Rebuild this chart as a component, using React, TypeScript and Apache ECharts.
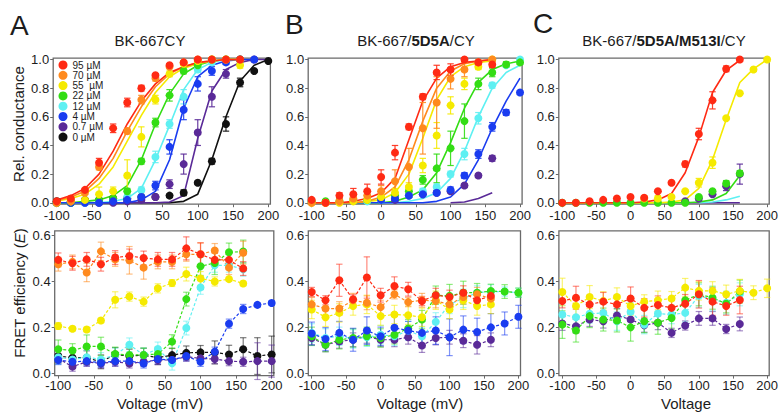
import React, { useEffect, useRef } from 'react';
import * as echarts from 'echarts';

const _ = null;
const VOLTAGES = [-100, -80, -60, -40, -20, 0, 20, 40, 60, 80, 100, 120, 140, 160, 180, 200];
const CONCENTRATIONS = ['95 µM', '70 µM', '55  µM', '22 µM', '12 µM', '4 µM', '0.7 µM', '0 µM'];
const COLORS = ['#ff2a14', '#ff8a1e', '#f5ea00', '#33dd14', '#5ef0f2', '#1a3cf0', '#5a2a98', '#111111'];
const X_TICKS = [-100, -50, 0, 50, 100, 150, 200];
const Y_TICKS_TOP = [0, 0.2, 0.4, 0.6, 0.8, 1.0];
const Y_TICKS_BOTTOM = [0, 0.2, 0.4, 0.6];

// ---- Panel A: BK-667CY ----
const A_TOP_G = [
  [0.01, 0.03, 0.09, 0.28, 0.52, 0.70, 0.80, 0.89, 0.96, 0.98, 1.0, 1.0, 1.0, 1.0, _, _],
  [0.0, 0.01, 0.07, 0.25, _, 0.50, 0.72, 0.87, 0.95, 0.98, 1.0, 1.0, 1.0, 1.0, _, _],
  [0.0, 0.01, 0.02, 0.06, 0.08, 0.19, 0.46, 0.72, 0.90, 0.97, 0.99, 1.0, 1.0, 0.96, _, _],
  [0.0, 0.0, 0.01, 0.02, 0.03, 0.08, 0.29, 0.56, 0.75, 0.92, 0.96, 1.0, 1.0, 1.0, _, _],
  [0.0, 0.0, 0.0, 0.01, 0.02, 0.04, 0.09, 0.32, 0.55, 0.74, 0.93, 0.98, 1.0, 1.0, _, _],
  [0.0, 0.0, 0.0, 0.0, 0.01, 0.02, 0.04, 0.12, 0.39, 0.65, 0.83, 0.92, 0.98, 1.0, 1.0, _],
  [0.0, 0.0, 0.0, 0.0, 0.0, 0.01, 0.02, 0.04, 0.13, 0.27, 0.49, 0.74, 0.90, 1.0, 1.0, _],
  [0.01, 0.01, 0.02, 0.02, 0.03, 0.03, 0.04, 0.04, 0.05, 0.07, 0.14, 0.29, 0.55, 0.84, 0.92, 0.99],
];
const A_TOP_ERR = [
  [0, 0, 0.01, 0.03, 0.03, 0.03, 0.02, 0.01, 0.01, 0, 0, 0, 0, 0, _, _],
  [0, 0, 0.01, 0.02, _, 0.02, 0.03, 0.02, 0.01, 0, 0, 0, 0, 0, _, _],
  [0, 0, 0.01, 0.05, 0.03, 0.11, 0.07, 0.03, 0.02, 0.01, 0, 0, 0, 0.02, _, _],
  [0, 0, 0, 0, 0.01, 0.02, 0.02, 0.03, 0.04, 0.02, 0.01, 0, 0, 0, _, _],
  [0, 0, 0, 0, 0, 0.01, 0.02, 0.04, 0.03, 0.05, 0.02, 0.01, 0, 0, _, _],
  [0, 0, 0, 0, 0, 0, 0.01, 0.03, 0.05, 0.07, 0.05, 0.03, 0.01, 0, 0, _],
  [0, 0, 0, 0, 0, 0, 0, 0.01, 0.03, 0.07, 0.09, 0.07, 0.03, 0, 0, _],
  [0, 0, 0, 0, 0, 0, 0, 0, 0.01, 0.02, 0.01, 0.02, 0.05, 0.03, 0.01, 0],
];
const A_TOP_FIT = [
  [0.02, 0.05, 0.10, 0.20, 0.36, 0.55, 0.71, 0.83, 0.91, 0.95, 0.98, 0.99, 1.0, 1.0, _, _],
  [0.015, 0.04, 0.08, 0.17, 0.31, 0.50, 0.67, 0.81, 0.90, 0.95, 0.98, 0.99, 1.0, 1.0, _, _],
  [0.01, 0.03, 0.06, 0.13, 0.25, 0.43, 0.61, 0.77, 0.88, 0.94, 0.97, 0.99, 1.0, 1.0, _, _],
  [0.0, 0.0, 0.01, 0.02, 0.05, 0.12, 0.30, 0.55, 0.76, 0.90, 0.96, 0.99, 1.0, 1.0, _, _],
  [0.0, 0.0, 0.0, 0.0, 0.01, 0.03, 0.10, 0.30, 0.54, 0.79, 0.93, 0.98, 1.0, 1.0, _, _],
  [0.0, 0.0, 0.0, 0.0, 0.0, 0.0, 0.02, 0.08, 0.30, 0.66, 0.88, 0.96, 0.99, 1.0, 1.0, _],
  [0.0, 0.0, 0.0, 0.0, 0.0, 0.0, 0.0, 0.0, 0.005, 0.05, 0.45, 0.78, 0.93, 0.98, 1.0, 1.0],
  [0.0, 0.0, 0.0, 0.0, 0.0, 0.0, 0.0, 0.0, 0.0, 0.01, 0.06, 0.30, 0.60, 0.85, 0.96, 1.0],
];
const A_BOT_E = [
  [0.494, 0.479, 0.496, 0.475, 0.504, 0.511, 0.502, 0.496, 0.496, 0.544, 0.518, 0.494, 0.494, 0.456, _, _],
  [0.475, 0.485, 0.439, 0.531, 0.496, 0.492, 0.46, 0.485, 0.485, 0.518, 0.518, 0.535, 0.46, 0.525, _, _],
  [0.206, 0.194, 0.191, 0.23, 0.32, 0.334, 0.312, 0.37, 0.393, 0.432, 0.413, 0.40, 0.41, 0.391, _, _],
  [0.105, 0.099, 0.117, 0.117, 0.084, 0.08, 0.08, 0.084, 0.138, 0.323, 0.466, 0.48, 0.527, 0.53, _, _],
  [0.07, 0.06, 0.07, 0.06, 0.08, 0.124, 0.08, 0.106, 0.044, 0.197, 0.374, 0.47, 0.47, 0.453, _, _],
  [0.058, 0.05, 0.053, 0.046, 0.053, 0.053, 0.043, 0.062, 0.058, 0.075, 0.05, 0.094, 0.216, 0.28, 0.298, 0.306],
  [0.065, 0.029, 0.05, 0.043, 0.05, 0.043, 0.05, 0.058, 0.058, 0.072, 0.065, 0.062, 0.053, 0.05, 0.053, 0.053],
  [0.075, 0.068, 0.068, 0.05, 0.082, 0.075, 0.079, 0.068, 0.079, 0.089, 0.091, 0.091, 0.082, 0.105, 0.075, 0.082],
];
const A_BOT_ERR = [
  [0.03, 0.03, 0.03, 0.03, 0.03, 0.03, 0.03, 0.03, 0.03, 0.05, 0.05, 0.03, 0.03, 0.03, _, _],
  [0.03, 0.03, 0.04, 0.04, 0.03, 0.06, 0.05, 0.03, 0.03, 0.03, 0.05, 0.03, 0.03, 0.05, _, _],
  [0.015, 0.01, 0.01, 0.01, 0.035, 0.02, 0.02, 0.02, 0.015, 0.03, 0.03, 0.02, 0.01, 0.01, _, _],
  [0.04, 0.03, 0.05, 0.04, 0.03, 0.03, 0.03, 0.03, 0.03, 0.03, 0.04, 0.05, 0.04, 0.05, _, _],
  [0.03, 0.03, 0.03, 0.03, 0.03, 0.03, 0.03, 0.03, 0.03, 0.03, 0.03, 0.03, 0.03, 0.03, _, _],
  [0.02, 0.02, 0.02, 0.02, 0.02, 0.02, 0.02, 0.02, 0.02, 0.02, 0.02, 0.02, 0.02, 0.02, 0.01, 0.01],
  [0.02, 0.02, 0.02, 0.02, 0.02, 0.02, 0.02, 0.02, 0.02, 0.02, 0.02, 0.02, 0.02, 0.02, 0.08, 0.07],
  [0.03, 0.03, 0.03, 0.03, 0.03, 0.03, 0.03, 0.03, 0.03, 0.03, 0.03, 0.05, 0.04, 0.05, 0.08, 0.08],
];

// ---- Panel B: BK-667/5D5A/CY ----
const B_TOP_G = [
  [0.02, 0.0, 0.05, 0.06, 0.08, 0.18, 0.35, 0.53, 0.74, 0.91, 0.93, 1.0, 0.98, 0.965, _, _],
  [0.0, 0.0, 0.01, 0.03, 0.05, 0.08, 0.15, 0.25, 0.52, 0.70, 0.865, 0.93, 0.98, 1.0, _, _],
  [0.0, 0.0, 0.0, 0.01, 0.02, 0.04, 0.07, 0.11, 0.26, 0.47, 0.68, 0.83, 0.95, 1.0, _, _],
  [0.01, 0.01, 0.01, 0.02, 0.02, 0.03, 0.05, 0.08, 0.16, 0.24, 0.38, 0.57, 0.83, 0.91, 0.965, 0.98],
  [_, _, _, _, 0.01, 0.02, 0.04, 0.05, 0.08, 0.11, 0.20, 0.34, 0.59, 0.82, 0.96, 1.0],
  [_, _, _, _, _, 0.02, 0.03, 0.05, 0.06, 0.07, 0.09, 0.19, 0.34, 0.53, 0.63, 0.77],
  [_, _, _, _, _, _, 0.02, 0.05, 0.06, 0.07, 0.08, 0.12, 0.19, 0.31, _, _],
  null,
];
const B_TOP_ERR = [
  [0.01, 0, 0.02, 0.04, 0.05, 0.05, 0.05, 0.02, 0.02, 0.05, 0.04, 0.01, 0.01, 0.02, _, _],
  [0, 0, 0.01, 0.02, 0.03, 0.04, 0.08, 0.13, 0.18, 0.18, 0.07, 0.05, 0.02, 0, _, _],
  [0, 0, 0, 0.01, 0.02, 0.02, 0.03, 0.03, 0.05, 0.09, 0.06, 0.04, 0.02, 0, _, _],
  [0, 0, 0, 0, 0.01, 0.01, 0.02, 0.02, 0.03, 0.10, 0.12, 0.12, 0.04, 0.03, 0.02, 0.01],
  [_, _, _, _, 0, 0, 0.01, 0.01, 0.02, 0.02, 0.02, 0.04, 0.04, 0.02, 0.01, 0],
  [_, _, _, _, _, 0, 0.01, 0.01, 0.01, 0.01, 0.02, 0.02, 0.03, 0.03, 0.02, 0.01],
  [_, _, _, _, _, _, 0, 0.01, 0.01, 0.01, 0.01, 0.01, 0.01, 0.02, _, _],
  null,
];
const B_TOP_FIT = [
  [0, 0, 0, 0.01, 0.03, 0.07, 0.17, 0.44, 0.71, 0.87, 0.95, 0.98, 0.99, 1.0, _, _],
  [0, 0, 0, 0, 0.01, 0.04, 0.11, 0.30, 0.57, 0.80, 0.92, 0.97, 0.99, 1.0, _, _],
  [0, 0, 0, 0, 0.01, 0.02, 0.07, 0.20, 0.45, 0.72, 0.88, 0.95, 0.98, 0.99, _, _],
  [0, 0, 0, 0, 0, 0, 0.01, 0.04, 0.09, 0.21, 0.42, 0.66, 0.84, 0.93, 0.97, 0.99],
  [0, 0, 0, 0, 0, 0, 0, 0.01, 0.03, 0.07, 0.17, 0.36, 0.60, 0.80, 0.91, 0.96],
  [0, 0, 0, 0, 0, 0, 0, 0, 0, 0.01, 0.04, 0.13, 0.30, 0.52, 0.71, 0.87],
  [_, _, _, _, _, _, _, _, _, _, 0.0, 0.005, 0.03, 0.07, _, _],
  null,
];
const B_BOT_E = [
  [0.354, 0.318, 0.405, 0.322, 0.417, 0.34, 0.38, 0.366, 0.315, 0.34, 0.332, 0.351, 0.318, 0.337, _, _],
  [0.30, 0.282, 0.282, 0.318, 0.307, 0.288, 0.344, 0.31, 0.318, 0.315, 0.30, 0.332, 0.344, 0.325, _, _],
  [0.278, 0.244, 0.263, 0.293, 0.30, 0.249, 0.256, 0.253, 0.244, 0.318, 0.278, 0.318, 0.293, 0.30, _, _],
  [0.161, 0.124, 0.146, 0.154, 0.161, 0.154, 0.168, 0.195, 0.234, 0.34, 0.337, 0.351, 0.351, 0.358, 0.356, 0.351],
  [0.176, 0.154, 0.161, 0.15, 0.157, 0.168, 0.161, 0.186, 0.161, 0.224, 0.30, 0.326, 0.351, 0.356, 0.356, 0.351],
  [0.173, 0.149, 0.176, 0.146, 0.186, 0.161, 0.198, 0.186, 0.176, 0.186, 0.157, 0.19, 0.18, 0.20, 0.217, 0.246],
  [0.154, 0.124, 0.139, 0.146, 0.161, 0.146, 0.146, 0.157, 0.121, 0.154, 0.157, 0.142, 0.124, 0.146, _, _],
  null,
];
const B_BOT_ERR = [
  [0.02, 0.02, 0.07, 0.02, 0.09, 0.03, 0.04, 0.03, 0.02, 0.03, 0.03, 0.03, 0.02, 0.02, _, _],
  [0.03, 0.03, 0.03, 0.03, 0.03, 0.03, 0.02, 0.02, 0.03, 0.03, 0.03, 0.03, 0.03, 0.03, _, _],
  [0.04, 0.04, 0.04, 0.04, 0.04, 0.04, 0.04, 0.04, 0.04, 0.04, 0.04, 0.04, 0.04, 0.04, _, _],
  [0.04, 0.03, 0.04, 0.04, 0.04, 0.04, 0.04, 0.04, 0.04, 0.04, 0.05, 0.05, 0.04, 0.03, 0.03, 0.02],
  [0.04, 0.04, 0.04, 0.04, 0.04, 0.04, 0.04, 0.04, 0.04, 0.04, 0.04, 0.04, 0.03, 0.03, 0.02, 0.02],
  [0.05, 0.05, 0.05, 0.05, 0.06, 0.04, 0.06, 0.04, 0.05, 0.06, 0.08, 0.06, 0.06, 0.06, 0.05, 0.05],
  [0.03, 0.03, 0.03, 0.03, 0.03, 0.03, 0.03, 0.03, 0.03, 0.03, 0.03, 0.03, 0.04, 0.03, _, _],
  null,
];

// ---- Panel C: BK-667/5D5A/M513I/CY ----
const C_TOP_G = [
  [0, 0, 0.01, 0.02, 0.03, 0.04, 0.035, 0.08, 0.14, 0.27, 0.48, 0.715, 0.935, 1.0, _, _],
  null,
  [_, _, _, _, _, _, 0.03, 0.03, 0.04, 0.08, 0.14, 0.28, 0.59, 0.765, 0.93, 1.0],
  [0, 0, 0, 0, 0, 0, 0, 0, 0, 0, 0.04, 0.08, 0.135, 0.205, _, _],
  null,
  null,
  [_, _, _, _, _, _, _, _, _, 0.01, 0.03, 0.06, 0.115, 0.2, _, _],
  null,
];
const C_TOP_ERR = [
  [0, 0, 0, 0, 0, 0, 0, 0, 0, 0.02, 0.04, 0.06, 0.02, 0, _, _],
  null,
  [_, _, _, _, _, _, 0.02, 0.02, 0.01, 0.01, 0.03, 0.04, 0.01, 0, 0, 0],
  [0, 0, 0, 0, 0, 0, 0, 0, 0, 0, 0.01, 0.01, 0.02, 0.02, _, _],
  null,
  null,
  [_, _, _, _, _, _, _, _, _, 0, 0.01, 0.01, 0.03, 0.07, _, _],
  null,
];
const C_TOP_FIT = [
  [0, 0, 0, 0, 0, 0, 0.005, 0.02, 0.065, 0.21, 0.46, 0.77, 0.925, 0.995, _, _],
  null,
  [0, 0, 0, 0, 0, 0, 0, 0, 0.005, 0.02, 0.10, 0.30, 0.58, 0.84, 0.935, 1.0],
  [0, 0, 0, 0, 0, 0, 0, 0, 0, 0, 0.005, 0.02, 0.065, 0.19, _, _],
  [_, _, _, _, _, _, _, _, _, _, 0, 0.005, 0.02, 0.045, _, _],
  null,
  [_, _, _, _, _, _, _, _, _, 0, 0, 0, 0, 0, _, _],
  null,
];
const C_BOT_E = [
  [0.315, 0.329, 0.30, 0.312, 0.30, 0.326, 0.285, 0.297, 0.285, 0.303, 0.344, 0.312, 0.293, 0.319, _, _],
  null,
  [0.354, 0.293, 0.332, 0.315, 0.332, 0.293, 0.312, 0.318, 0.326, 0.373, 0.359, 0.359, 0.344, 0.359, 0.351, 0.37],
  [0.212, 0.186, 0.249, 0.234, 0.23, 0.20, 0.227, 0.22, 0.241, 0.318, 0.344, 0.329, 0.303, 0.356, _, _],
  [0.256, 0.244, 0.259, 0.263, 0.227, 0.268, 0.212, 0.26, 0.256, 0.263, 0.337, 0.322, 0.307, 0.344, _, _],
  null,
  [0.217, 0.205, 0.234, 0.227, 0.252, 0.234, 0.209, 0.22, 0.176, 0.208, 0.239, 0.239, 0.193, 0.215, _, _],
  null,
];
const C_BOT_ERR = [
  [0.03, 0.05, 0.04, 0.04, 0.04, 0.05, 0.04, 0.04, 0.04, 0.04, 0.06, 0.06, 0.04, 0.06, _, _],
  null,
  [0.06, 0.04, 0.05, 0.04, 0.04, 0.04, 0.03, 0.04, 0.03, 0.04, 0.04, 0.04, 0.04, 0.05, 0.03, 0.04],
  [0.06, 0.05, 0.05, 0.05, 0.05, 0.06, 0.05, 0.05, 0.05, 0.05, 0.05, 0.05, 0.04, 0.05, _, _],
  [0.04, 0.04, 0.04, 0.04, 0.04, 0.04, 0.04, 0.04, 0.04, 0.04, 0.05, 0.05, 0.05, 0.05, _, _],
  null,
  [0.03, 0.03, 0.03, 0.03, 0.03, 0.03, 0.03, 0.03, 0.02, 0.02, 0.03, 0.03, 0.02, 0.03, _, _],
  null,
];

// drawing order (back to front): black, purple, cyan, green, blue, yellow, orange, red
const DRAW_ORDER = [7, 6, 4, 3, 5, 2, 1, 0];
const FONT = '"Liberation Sans", Arial, Helvetica, sans-serif';
const TXT = '#1c1c1c';
const FRAME = '#6a6a6a';

type Row = (number | null)[] | null;
interface Panel {
  id: string;
  kind: 'top' | 'bottom';
  grid: { left: number; top: number; width: number; height: number };
  values: Row[];
  errors: Row[];
  fits?: Row[];
}

const TOP_GRID_Y = { top: 58.1, height: 146.1 };
const BOT_GRID_Y = { top: 230.9, height: 144.7 };

const PANELS: Panel[] = [
  { id: 'At', kind: 'top', grid: { left: 53.2, width: 217.2, ...TOP_GRID_Y }, values: A_TOP_G, errors: A_TOP_ERR, fits: A_TOP_FIT },
  { id: 'Bt', kind: 'top', grid: { left: 308.2, width: 213.9, ...TOP_GRID_Y }, values: B_TOP_G, errors: B_TOP_ERR, fits: B_TOP_FIT },
  { id: 'Ct', kind: 'top', grid: { left: 558.8, width: 213.2, ...TOP_GRID_Y }, values: C_TOP_G, errors: C_TOP_ERR, fits: C_TOP_FIT },
  { id: 'Ab', kind: 'bottom', grid: { left: 54.7, width: 219.1, ...BOT_GRID_Y }, values: A_BOT_E, errors: A_BOT_ERR },
  { id: 'Bb', kind: 'bottom', grid: { left: 308.3, width: 212.2, ...BOT_GRID_Y }, values: B_BOT_E, errors: B_BOT_ERR },
  { id: 'Cb', kind: 'bottom', grid: { left: 558.9, width: 210.8, ...BOT_GRID_Y }, values: C_BOT_E, errors: C_BOT_ERR },
];

function pairs(row: (number | null)[]) {
  return VOLTAGES.map((v, j) => (row[j] == null ? null : [v, row[j]])).filter((d) => d !== null);
}

function makeErrRender(color: string, opacity: number) {
  return (params: any, api: any) => {
    const x = api.value(0);
    const y = api.value(1);
    const e = api.value(2);
    const hi = api.coord([x, y + e]);
    const lo = api.coord([x, y - e]);
    const w = 3.2;
    const style = { stroke: color, lineWidth: 1.2, opacity };
    return {
      type: 'group',
      children: [
        { type: 'line', shape: { x1: hi[0], y1: hi[1], x2: lo[0], y2: lo[1] }, style },
        { type: 'line', shape: { x1: hi[0] - w, y1: hi[1], x2: hi[0] + w, y2: hi[1] }, style },
        { type: 'line', shape: { x1: lo[0] - w, y1: lo[1], x2: lo[0] + w, y2: lo[1] }, style },
      ],
    };
  };
}

function buildOption() {
  const grids = PANELS.map((p) => ({
    ...p.grid,
    show: true,
    borderColor: FRAME,
    borderWidth: 1.3,
    backgroundColor: 'transparent',
    containLabel: false,
  }));
  const xAxes = PANELS.map((p, i) => ({
    type: 'value',
    gridIndex: i,
    position: 'bottom',
    min: -105,
    max: 203,
    axisLine: { show: false, onZero: false },
    splitLine: { show: false },
    axisTick: { show: true, customValues: X_TICKS, length: 3, lineStyle: { color: FRAME } },
    axisLabel: {
      customValues: X_TICKS,
      fontSize: 13,
      color: TXT,
      fontFamily: FONT,
      margin: p.kind === 'top' ? 5 : 3,
    },
  }));
  const yAxes = PANELS.map((p, i) => {
    const ticks = p.kind === 'top' ? Y_TICKS_TOP : Y_TICKS_BOTTOM;
    return {
      type: 'value',
      gridIndex: i,
      position: 'left',
      min: -0.01,
      max: p.kind === 'top' ? 1.01 : 0.62,
      axisLine: { show: false, onZero: false },
      splitLine: { show: false },
      axisTick: { show: true, customValues: ticks, length: 3, lineStyle: { color: FRAME } },
      axisLabel: {
        customValues: ticks,
        fontSize: 13,
        color: TXT,
        fontFamily: FONT,
        margin: 4,
        formatter: (v: number) => v.toFixed(1),
      },
    };
  });

  const series: any[] = [];
  PANELS.forEach((p, pi) => {
    DRAW_ORDER.forEach((k) => {
      const color = COLORS[k];
      const fit = p.fits ? p.fits[k] : null;
      if (fit) {
        series.push({
          type: 'line',
          name: `${p.id}-fit-${k}`,
          xAxisIndex: pi,
          yAxisIndex: pi,
          data: pairs(fit),
          symbol: 'none',
          lineStyle: { color, width: 1.6 },
          z: 1,
          silent: true,
        });
      }
      const vals = p.values[k];
      const errs = p.errors[k];
      if (!vals || !errs) return;
      if (p.kind === 'bottom') {
        series.push({
          type: 'line',
          name: `${p.id}-link-${k}`,
          xAxisIndex: pi,
          yAxisIndex: pi,
          data: pairs(vals),
          symbol: 'none',
          lineStyle: { color, width: 1.2, type: [3, 2] },
          z: 1,
          silent: true,
        });
      }
      const errData = VOLTAGES.map((v, j) =>
        vals[j] != null && errs[j] != null && (errs[j] as number) > 0 ? [v, vals[j], errs[j]] : null
      ).filter((d) => d !== null);
      series.push({
        type: 'custom',
        name: `${p.id}-err-${k}`,
        xAxisIndex: pi,
        yAxisIndex: pi,
        coordinateSystem: 'cartesian2d',
        encode: { x: 0, y: 1 },
        data: errData,
        renderItem: makeErrRender(color, p.kind === 'top' ? 0.9 : 0.55),
        z: 2,
        silent: true,
      });
      series.push({
        type: 'scatter',
        name: pi === 0 ? CONCENTRATIONS[k] : `${p.id}-pt-${k}`,
        xAxisIndex: pi,
        yAxisIndex: pi,
        data: pairs(vals),
        symbol: 'circle',
        symbolSize: 8,
        itemStyle: { color, opacity: 1 },
        z: 3,
        silent: true,
      });
    });
  });

  const titleRich = {
    n: { fontSize: 15, fontFamily: FONT, fill: TXT, color: TXT },
    b: { fontSize: 15, fontFamily: FONT, fontWeight: 'bold', fill: TXT, color: TXT },
  };
  const text = (x: number, y: number, t: string, extra: any = {}) => ({
    type: 'text',
    x,
    y,
    silent: true,
    ...extra,
    style: {
      text: t,
      fill: TXT,
      font: `15px ${FONT}`,
      align: 'center',
      verticalAlign: 'middle',
      ...(extra.style || {}),
    },
  });

  const graphic = [
    text(10, 25, 'A', { style: { font: `28px ${FONT}`, align: 'left' } }),
    text(285, 24, 'B', { style: { font: `28px ${FONT}`, align: 'left' } }),
    text(533, 23, 'C', { style: { font: `28px ${FONT}`, align: 'left' } }),
    text(150, 40, '{n|BK-667CY}', { style: { rich: titleRich } }),
    text(416, 40, '{n|BK-667/}{b|5D5A}{n|/CY}', { style: { rich: titleRich } }),
    text(664, 40, '{n|BK-667/}{b|5D5A/M513I}{n|/CY}', { style: { rich: titleRich } }),
    text(18, 124, 'Rel. conductance', { rotation: Math.PI / 2 }),
    text(19, 293, '{n|FRET efficiency (}{i|E}{n|)}', {
      rotation: Math.PI / 2,
      style: {
        rich: {
          n: { fontSize: 15, fontFamily: FONT, fill: TXT, color: TXT },
          i: { fontSize: 15, fontFamily: FONT, fontStyle: 'italic', fill: TXT, color: TXT },
        },
      },
    }),
    text(160, 403, 'Voltage (mV)'),
    text(420, 403, 'Voltage (mV)'),
    text(686, 403, 'Voltage'),
  ];

  return {
    animation: false,
    backgroundColor: '#ffffff',
    textStyle: { fontFamily: FONT },
    grid: grids,
    xAxis: xAxes,
    yAxis: yAxes,
    legend: {
      data: CONCENTRATIONS,
      orient: 'vertical',
      left: 58.5,
      top: 60,
      padding: 0,
      icon: 'circle',
      itemWidth: 9,
      itemHeight: 9,
      itemGap: 0.3,
      selectedMode: false,
      textStyle: { fontSize: 10, lineHeight: 10, color: TXT, fontFamily: FONT },
    },
    series,
    graphic,
  };
}

export default function App() {
  const ref = useRef<HTMLDivElement>(null);
  useEffect(() => {
    if (!ref.current) return;
    const chart = echarts.init(ref.current, undefined, { renderer: 'svg' });
    chart.setOption(buildOption() as any);
    return () => chart.dispose();
  }, []);
  return <div ref={ref} style={{ width: 781, height: 414, position: 'absolute', left: 0, top: 0 }} />;
}
